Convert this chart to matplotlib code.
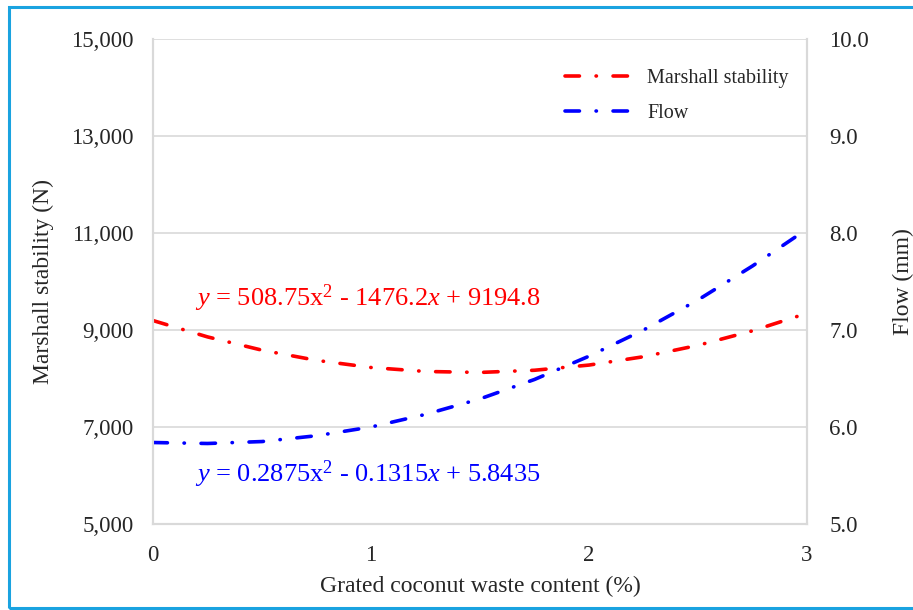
import matplotlib.pyplot as plt
from matplotlib.patches import Rectangle
from matplotlib.ticker import FuncFormatter

plt.rcParams["font.family"] = ["Liberation Serif", "DejaVu Serif"]
plt.rcParams["mathtext.fontset"] = "custom"
plt.rcParams["mathtext.rm"] = "Liberation Serif"
plt.rcParams["mathtext.it"] = "Liberation Serif:italic"

# grated coconut waste content (%)
content = [0, 0.25, 0.5, 0.75, 1.0, 1.25, 1.5, 1.75, 2.0, 2.25, 2.5, 2.75, 3.0]
stability = [9195, 8858, 8584, 8374, 8227, 8145, 8125, 8170, 8277, 8449, 8684, 8983, 9345]
flow = [5.84, 5.83, 5.85, 5.91, 6.00, 6.13, 6.29, 6.49, 6.73, 7.00, 7.31, 7.66, 8.04]

x_ticks = [0, 1, 2, 3]
left_ticks = [5000, 7000, 9000, 11000, 13000, 15000]
right_ticks = [5.0, 6.0, 7.0, 8.0, 9.0, 10.0]

eq_stab = r"$y$ = 508.75x$^2$ - 1476.2$x$ + 9194.8"
eq_flow = r"$y$ = 0.2875x$^2$ - 0.1315$x$ + 5.8435"

RED = "#ff0000"
BLUE = "#0000ff"
GRID = "#d9d9d9"
DASH = (4.0, 4.6, 0.1, 4.6)

fig = plt.figure(figsize=(9.13, 6.10), dpi=100)
ax = fig.add_axes([153 / 913, 1 - 524 / 610, (807 - 153) / 913, (524 - 39) / 610])
ax2 = ax.twinx()

l1, = ax.plot(content, stability, color=RED, lw=2.6, dashes=DASH,
              dash_capstyle="round", label="Marshall stability")
l2, = ax2.plot(content, flow, color=BLUE, lw=2.6, dashes=DASH,
               dash_capstyle="round", label="Flow")

ax.set_xlim(0, 3)
ax.set_ylim(5000, 15000)
ax2.set_ylim(5.0, 10.0)
ax.set_xticks(x_ticks)
ax.set_yticks(left_ticks)
ax2.set_yticks(right_ticks)
ax.yaxis.set_major_formatter(FuncFormatter(lambda v, p: f"{int(v):,}"))
ax2.yaxis.set_major_formatter(FuncFormatter(lambda v, p: f"{v:.1f}"))

ax.grid(axis="y", color=GRID, lw=1.2)
ax.set_axisbelow(True)
for a in (ax, ax2):
    for s in a.spines.values():
        s.set_color(GRID)
        s.set_linewidth(1.5)
    a.spines["top"].set_visible(False)
ax.tick_params(axis="both", length=0, labelsize=16.5, colors="#262626")
ax.tick_params(axis="y", pad=14)
ax.tick_params(axis="x", pad=15)
ax2.tick_params(axis="y", length=0, labelsize=16.5, pad=16, colors="#262626")

ax.set_xlabel("Grated coconut waste content (%)", fontsize=17, color="#262626", labelpad=7)
ax.set_ylabel("Marshall stability (N)", fontsize=17, color="#262626", labelpad=12)
ax2.set_ylabel("Flow (mm)", fontsize=17, color="#262626", labelpad=17)

ax.text(0.064, 0.465, eq_stab, transform=ax.transAxes, color=RED, fontsize=19,
        va="center", ha="left")
ax.text(0.064, 0.102, eq_flow, transform=ax.transAxes, color=BLUE, fontsize=19,
        va="center", ha="left")

leg = ax2.legend(handles=[l1, l2], loc="upper right", bbox_to_anchor=(1.0, 0.975),
                 frameon=False, fontsize=14.5, handlelength=3.3, labelspacing=0.75,
                 handletextpad=0.8)
for t in leg.get_texts():
    t.set_color("#262626")

fig.patches.append(Rectangle((9 / 913, 2 / 610), 1.0, 1 - 9 / 610, transform=fig.transFigure,
                             fill=False, edgecolor="#1aa3e0", lw=2.2, clip_on=False))

fig.savefig("out.png", dpi=100)
